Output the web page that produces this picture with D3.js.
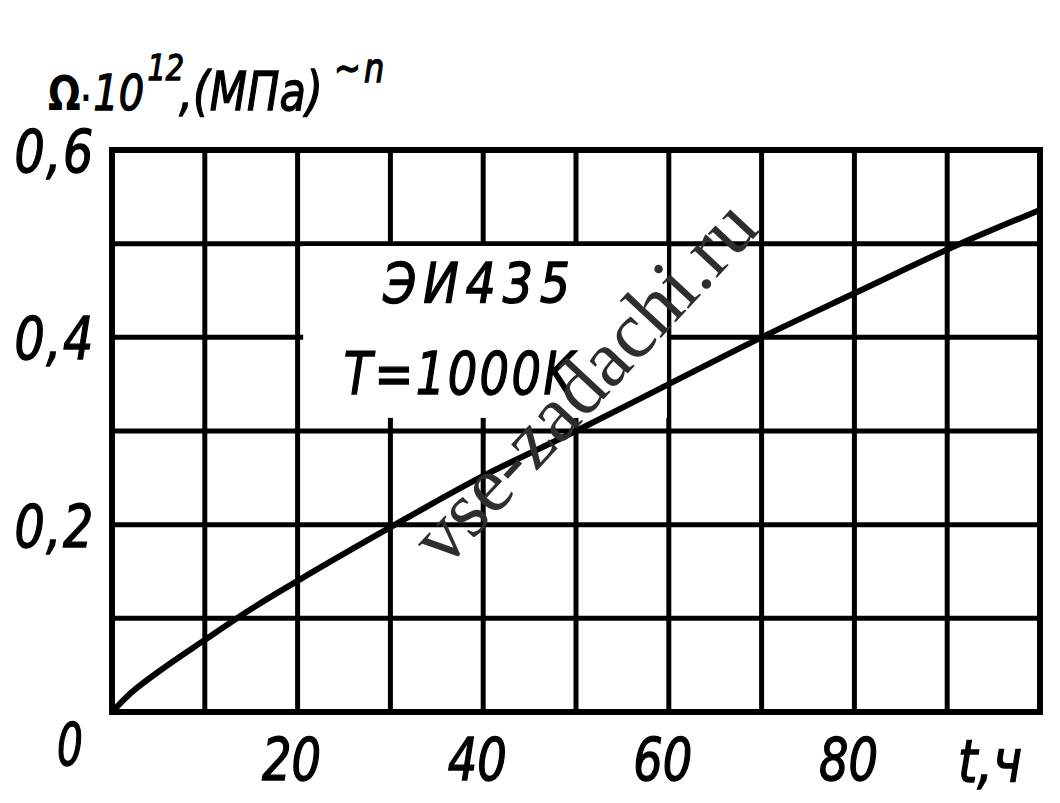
<!DOCTYPE html>
<html>
<head>
<meta charset="utf-8">
<script src="https://cdn.jsdelivr.net/npm/d3@7"></script>
<style>
  body { margin: 0; background: #fff; }
  svg { display: block; }
  text { font-family: "DejaVu Sans", sans-serif; fill: #000; }
  .hand { font-style: italic; stroke: #000; stroke-width: 1.4; }
</style>
</head>
<body>
<svg id="chart" width="1060" height="803"></svg>
<script>
// кривая Ω(t) для ЭИ435, T=1000K
const tHours = [0, 2, 5, 10, 15, 20, 30.5, 40, 50, 60, 70, 80, 91.4, 100];
const omega = [0, 0.02, 0.043, 0.077, 0.11, 0.14, 0.2, 0.252, 0.3, 0.35, 0.4, 0.447, 0.5, 0.536];

const xGrid = [0, 10, 20, 30, 40, 50, 60, 70, 80, 90, 100];
const yGrid = [0, 0.1, 0.2, 0.3, 0.4, 0.5, 0.6];
const xTickLabels = [20, 40, 60, 80];
const yTickLabels = [0.2, 0.4, 0.6];

const svg = d3.select("#chart");

const x = d3.scaleLinear().domain([0, 100]).range([112, 1040]);
const y = d3.scaleLinear().domain([0, 0.6]).range([712, 150]);

// сетка
const grid = svg.append("g").attr("stroke", "#000").attr("stroke-width", 5);
grid.selectAll(".vx")
    .data(xGrid.slice(1, -1))
    .enter()
    .append("line")
    .attr("x1", d => x(d)).attr("x2", d => x(d))
    .attr("y1", y(0.6)).attr("y2", y(0));
grid.selectAll(".hy")
    .data(yGrid.slice(1, -1))
    .enter()
    .append("line")
    .attr("x1", x(0)).attr("x2", x(100))
    .attr("y1", d => y(d)).attr("y2", d => y(d));

// белое поле под надписью
svg.append("rect")
    .attr("x", x(20.6))
    .attr("y", y(0.4975))
    .attr("width", x(59.8) - x(20.6))
    .attr("height", y(0.314) - y(0.4975))
    .attr("fill", "#fff");

// рамка
svg.append("rect")
    .attr("x", x(0)).attr("y", y(0.6))
    .attr("width", x(100) - x(0))
    .attr("height", y(0) - y(0.6))
    .attr("fill", "none")
    .attr("stroke", "#000")
    .attr("stroke-width", 6);

// кривая
const line = d3.line()
    .x((d, i) => x(tHours[i]))
    .y(d => y(d))
    .curve(d3.curveMonotoneX);

svg.append("path")
    .datum(omega)
    .attr("d", line)
    .attr("fill", "none")
    .attr("stroke", "#000")
    .attr("stroke-width", 6)
    .attr("stroke-linecap", "round");

// подписи делений
const fmt = d => String(d).replace(".", ",");
const fs = 58;

svg.selectAll(".ylab")
    .data(yTickLabels)
    .enter()
    .append("text")
    .attr("class", "hand")
    .attr("transform", d => "translate(95," + (y(d) + 22) + ") scale(0.82,1)")
    .attr("text-anchor", "end")
    .style("font-size", fs + "px")
    .style("letter-spacing", "2px")
    .text(fmt);

svg.append("text")
    .attr("class", "hand")
    .attr("transform", "translate(70,765) scale(0.7,1)")
    .attr("text-anchor", "middle")
    .style("font-size", fs + "px")
    .text("0");

svg.selectAll(".xlab")
    .data(xTickLabels)
    .enter()
    .append("text")
    .attr("class", "hand")
    .attr("transform", d => "translate(" + (x(d) - 6) + ",780) scale(0.8,1)")
    .attr("text-anchor", "middle")
    .style("font-size", fs + "px")
    .text(d => d);

svg.append("text")
    .attr("class", "hand")
    .attr("transform", "translate(990,782) scale(0.85,1)")
    .attr("text-anchor", "middle")
    .style("font-size", fs + "px")
    .text("t,ч");

// заголовок оси Y одной строкой
const title = svg.append("text")
    .attr("transform", "translate(48,110) scale(0.8,1)");
title.append("tspan")
    .style("font-size", "48px")
    .style("font-weight", "bold")
    .text("Ω");
title.append("tspan")
    .style("font-size", "34px")
    .style("font-weight", "bold")
    .text("·");
title.append("tspan")
    .attr("class", "hand")
    .attr("dx", 3)
    .style("font-size", "50px")
    .text("10");
title.append("tspan")
    .attr("class", "hand")
    .attr("dy", -30)
    .attr("dx", 4)
    .style("font-size", "36px")
    .text("12");
title.append("tspan")
    .attr("class", "hand")
    .attr("dy", 30)
    .attr("dx", -6)
    .style("font-size", "54px")
    .text(",(МПа)");
title.append("tspan")
    .attr("class", "hand")
    .attr("dy", -28)
    .attr("dx", 14)
    .style("font-size", "40px")
    .style("letter-spacing", "4px")
    .text("~n");

// надпись на поле
svg.append("text")
    .attr("class", "hand")
    .attr("transform", "translate(480,302) scale(0.85,1)")
    .attr("text-anchor", "middle")
    .style("font-size", "56px")
    .style("letter-spacing", "8px")
    .text("ЭИ435");
svg.append("text")
    .attr("class", "hand")
    .attr("transform", "translate(460,394) scale(0.8,1)")
    .attr("text-anchor", "middle")
    .style("font-size", "58px")
    .style("letter-spacing", "3px")
    .text("T=1000K");

// водяной знак
svg.append("text")
    .attr("transform", "translate(603,400) rotate(-47)")
    .attr("text-anchor", "middle")
    .style("font-family", "'Liberation Serif', serif")
    .style("font-size", "80px")
    .style("fill", "#2e2e2e")
    .text("vse-zadachi.ru");
</script>
</body>
</html>
